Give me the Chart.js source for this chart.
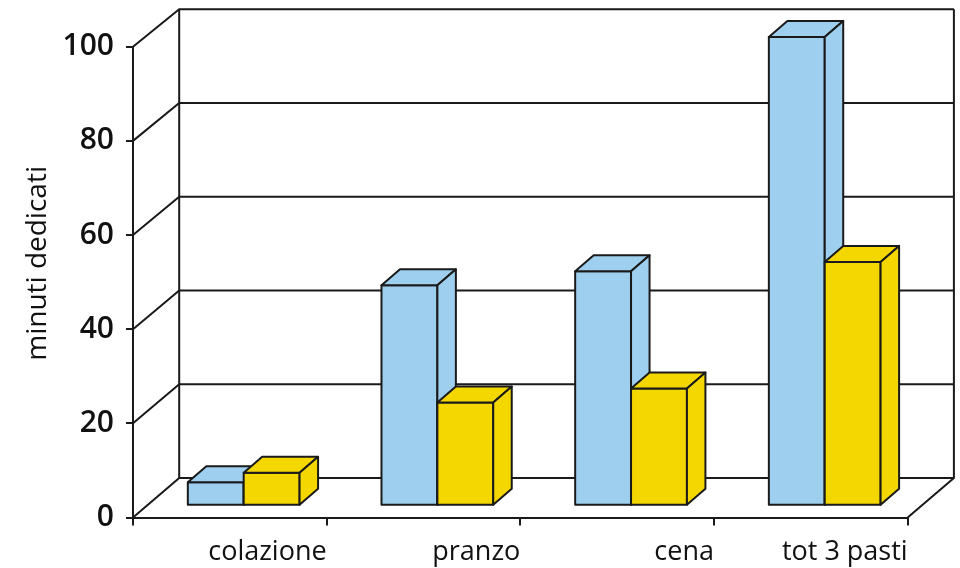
<!DOCTYPE html>
<html lang="it">
<head>
<meta charset="utf-8">
<title>Minuti dedicati ai pasti</title>
<script src="https://cdn.jsdelivr.net/npm/chart.js@4.4.1/dist/chart.umd.min.js"></script>
<style>
  html, body { margin: 0; padding: 0; background: #fff; }
  #wrap { width: 960px; height: 568px; }
</style>
</head>
<body>
<div id="wrap"><canvas id="pasti" width="960" height="568"></canvas></div>
<script>
// --- Dati ---
const categorie = ['colazione', 'pranzo', 'cena', 'tot 3 pasti'];
const serieAzzurra = [5, 47, 50, 100];
const serieGialla = [7, 22, 25, 52];
const tickY = [0, 20, 40, 60, 80, 100];
const titoloY = 'minuti dedicati';

// --- Stile della scatola 3D ---
const INK = '#1a1a1a';
const FONT = '"Open Sans", "DejaVu Sans", sans-serif';
const PARETE = { x: 46.2, y: -39.5 };   // spostamento della parete di fondo
const INIZIO_BARRA = 0.3;              // frazione di profondità dove parte la barra
const PROF_BARRA = { x: 18.5, y: -16 };  // spessore delle barre
const RIDUZIONE = 0.9955;              // leggera riduzione prospettica in altezza

function yFondo(ys, v) {
    const y0 = ys.getPixelForValue(0);
    return y0 + PARETE.y + (ys.getPixelForValue(v) - y0) * RIDUZIONE;
}

function linea(ctx, pts) {
    ctx.beginPath();
    ctx.moveTo(pts[0][0], pts[0][1]);
    for (let i = 1; i < pts.length; i++) ctx.lineTo(pts[i][0], pts[i][1]);
    ctx.stroke();
}

function poligono(ctx, pts, colore) {
    ctx.beginPath();
    ctx.moveTo(pts[0][0], pts[0][1]);
    for (let i = 1; i < pts.length; i++) ctx.lineTo(pts[i][0], pts[i][1]);
    ctx.closePath();
    ctx.fillStyle = colore;
    ctx.fill();
    ctx.stroke();
}

const scatola3D = {
    id: 'scatola3D',
    // pareti, griglia di fondo e pavimento
    beforeDatasetsDraw(chart) {
        const { ctx, scales: { x: xs, y: ys } } = chart;
        const x0 = xs.left, x1 = xs.right;
        ctx.save();
        ctx.strokeStyle = INK;
        ctx.lineWidth = 2;
        ctx.lineJoin = 'miter';
        tickY.forEach(v => {
            const yf = ys.getPixelForValue(v);
            const yb = yFondo(ys, v);
            linea(ctx, [[x0, yf], [x0 + PARETE.x, yb], [x1 + PARETE.x, yb]]);
        });
        const top = yFondo(ys, tickY[tickY.length - 1]);
        const bot = yFondo(ys, 0);
        linea(ctx, [[x0 + PARETE.x, top], [x0 + PARETE.x, bot]]);
        linea(ctx, [[x1 + PARETE.x, top], [x1 + PARETE.x, bot], [x1, ys.getPixelForValue(0)]]);

        // titolo dell'asse, centrato sull'altezza di tutta la scatola
        ctx.fillStyle = '#111';
        ctx.font = '500 28px ' + FONT;
        ctx.textAlign = 'center';
        ctx.textBaseline = 'alphabetic';
        ctx.translate(46, (top + ys.getPixelForValue(0)) / 2);
        ctx.rotate(-Math.PI / 2);
        ctx.fillText(titoloY, 0, 0);
        ctx.restore();
    },
    // barre con faccia frontale, superiore e laterale
    afterDatasetsDraw(chart) {
        const { ctx } = chart;
        const ox = PARETE.x * INIZIO_BARRA, oy = PARETE.y * INIZIO_BARRA;
        const dx = PROF_BARRA.x, dy = PROF_BARRA.y;
        ctx.save();
        ctx.strokeStyle = INK;
        ctx.lineWidth = 2;
        ctx.lineJoin = 'round';
        for (let i = 0; i < categorie.length; i++) {
            chart.data.datasets.forEach((ds, d) => {
                const el = chart.getDatasetMeta(d).data[i];
                const { x, y, base, width } = el.getProps(['x', 'y', 'base', 'width'], true);
                const L = x - width / 2 + ox, R = L + width;
                const B = base + oy;
                const T = B - (base - y) * RIDUZIONE;
                const col = ds.colore3D;
                poligono(ctx, [[L, T], [R, T], [R, B], [L, B]], col);
                poligono(ctx, [[L, T], [L + dx, T + dy], [R + dx, T + dy], [R, T]], col);
                poligono(ctx, [[R, T], [R + dx, T + dy], [R + dx, B + dy], [R, B]], col);
            });
        }
        ctx.restore();
    }
};

new Chart(document.getElementById('pasti'), {
    type: 'bar',
    data: {
        labels: categorie,
        datasets: [{
            data: serieAzzurra,
            colore3D: '#9fcfef',
            backgroundColor: 'rgba(0,0,0,0)',
            borderWidth: 0
        }, {
            data: serieGialla,
            colore3D: '#f5d700',
            backgroundColor: 'rgba(0,0,0,0)',
            borderWidth: 0
        }]
    },
    options: {
        responsive: false,
        animation: false,
        events: [],
        layout: { padding: { top: 46.7, right: 52.3, left: 0, bottom: 0 } },
        datasets: { bar: { categoryPercentage: 0.577, barPercentage: 1 } },
        plugins: { legend: { display: false }, tooltip: { enabled: false } },
        scales: {
            x: {
                border: { display: true, color: INK, width: 2 },
                grid: { offset: true, drawOnChartArea: false, drawTicks: true, tickLength: 8, color: INK, lineWidth: 2 },
                ticks: {
                    color: '#111',
                    font: { family: FONT, size: 27, weight: 500 },
                    align: 'end',
                    labelOffset: 96.8,
                    padding: 11,
                    maxRotation: 0
                },
                afterFit: s => { s.height = 50.5; }
            },
            y: {
                min: 0,
                max: 100,
                border: { display: true, color: INK, width: 2 },
                grid: { drawOnChartArea: false, drawTicks: true, tickLength: 7, color: INK, lineWidth: 2 },
                ticks: {
                    color: '#111',
                    font: { family: FONT, size: 30, weight: 600 },
                    padding: 12
                },
                afterBuildTicks: s => { s.ticks = tickY.map(v => ({ value: v })); },
                afterFit: s => { s.width = 133; }
            }
        }
    },
    plugins: [scatola3D]
});
</script>
</body>
</html>
